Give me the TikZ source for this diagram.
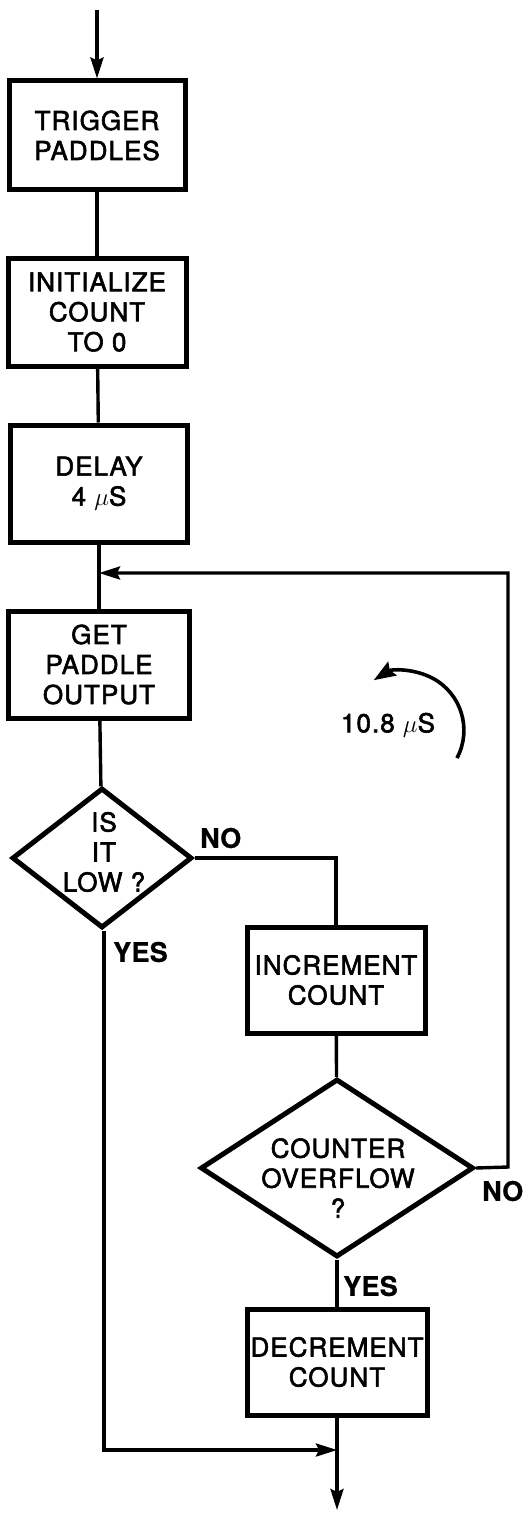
\documentclass[tikz,border=0pt]{standalone}
\usepackage{fontspec}
\setmainfont{TeX Gyre Heros}[LetterSpace=4,FakeBold=2.2]
\newfontfamily\lblfont{TeX Gyre Heros}[LetterSpace=1,FakeBold=0.8]
\usetikzlibrary{shapes.geometric,arrows.meta}
\begin{document}
\begin{tikzpicture}[x=1pt,y=-1pt,
  every node/.style={font=\fontsize{26}{30}\selectfont},
  procbox/.style={draw,line width=5pt,align=center,inner sep=0pt},
  decbox/.style={draw,diamond,line width=5pt,inner sep=0pt,minimum width=#1},
  lbl/.style={font=\lblfont\fontsize{27}{30}\selectfont\bfseries,inner sep=0pt},
  conn/.style={line width=3.4pt},
  arr/.style={conn,-{Stealth[length=21pt,width=13pt,inset=3pt]}},
  txt/.style={align=center,inner sep=0pt}
]
\useasboundingbox (0,0) rectangle (522,1533);
\coordinate (start) at (97,10);
\node[procbox,minimum width=176,minimum height=109] (b1) at (97,135.5) {TRIGGER\\PADDLES};
\node[procbox,minimum width=178,minimum height=108] (b2) at (97,312) {INITIALIZE\\COUNT\\TO 0};
\node[procbox,minimum width=177,minimum height=117] (b3) at (99,483.5) {DELAY\\4 $\mu$S};
\coordinate (fb) at (99,573);
\node[procbox,minimum width=181,minimum height=107] (b4) at (99,664.5) {GET\\PADDLE\\OUTPUT};
\node[decbox=180,minimum height=140] (d1) at (102,858) {};
\node[txt] (d1t) at (104,852) {IS\\IT\\LOW ?};
\node[procbox,minimum width=178,minimum height=106] (b5) at (336,980) {INCREMENT\\COUNT};
\node[decbox=273,minimum height=178] (d2) at (337,1168) {};
\node[txt] (d2t) at (338,1178) {COUNTER\\OVERFLOW\\?};
\node[procbox,minimum width=180,minimum height=106] (b6) at (337,1362) {DECREMENT\\COUNT};
\coordinate (merge) at (337,1450);
\coordinate (endpt) at (337,1510);
\coordinate (rc) at (508,1167);
\coordinate (rt) at (508,573);
\coordinate (nc) at (336,858);
\coordinate (yl) at (104,1450);

\draw[arr] (start) -- (b1.north);
\draw[conn] (b1) -- (b2);
\draw[conn] (b2) -- (b3);
\draw[conn] (b3) -- (b4);
\draw[conn] (b4) -- (d1);
\draw[conn] (d1.east) -- (nc) -- (b5.north);
\draw[conn] (b5) -- (d2);
\draw[conn] (d2) -- (b6);
\draw[arr] (d2.east) -- (rc) -- (rt) -- (fb);
\draw[arr] (d1.south -| yl) -- (yl) -- (merge);
\draw[arr] (b6.south) -- (endpt);

\node[lbl,anchor=west] (no1) at (200,838) {NO};
\node[lbl,anchor=west] (yes1) at (113,952) {YES};
\node[lbl,anchor=west] (yes2) at (343,1286) {YES};
\node[lbl,anchor=west] (no2) at (482,1191) {NO};

\draw[line width=3.6pt,-{Stealth[length=22pt,width=16pt,inset=3pt]}] (457,758) arc[start angle=28,end angle=-122,radius=59];
\node[txt] (tm) at (388,725) {10.8 $\mu$S};
\end{tikzpicture}
\end{document}
